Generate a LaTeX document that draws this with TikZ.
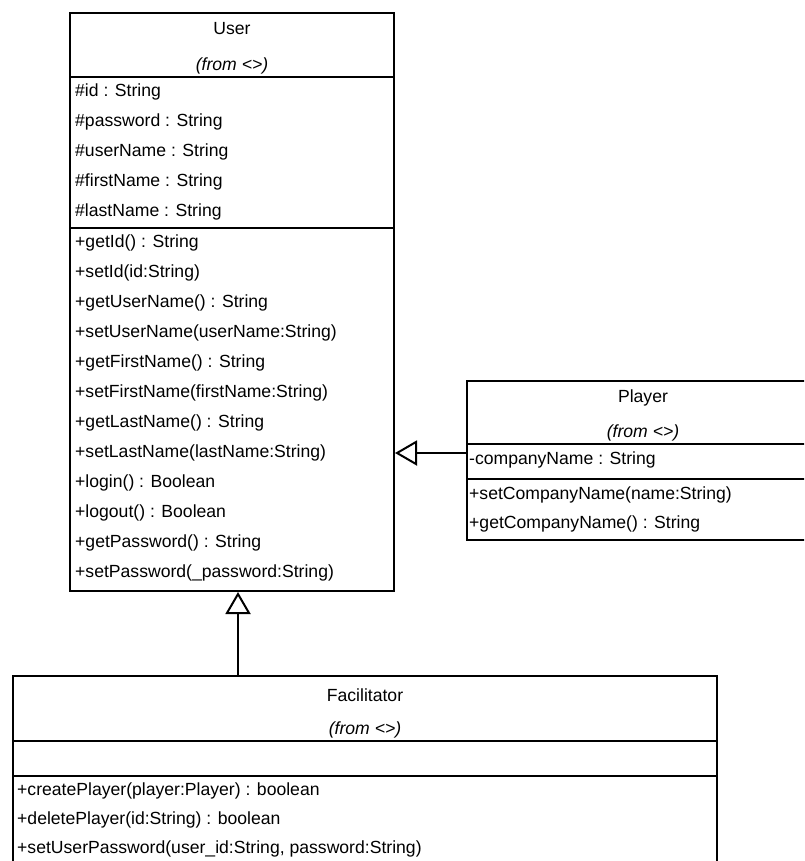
\documentclass[tikz,border=0pt]{standalone}
\usepackage{fontspec}
\setmainfont{Liberation Sans}
\usetikzlibrary{arrows.meta}
\begin{document}
\begin{tikzpicture}[x=1pt,y=-1pt,
  box/.style={draw, line width=2pt, inner sep=0pt, anchor=north west},
  sep/.style={line width=1.8pt},
  member/.style={anchor=west, inner sep=0pt, font=\fontsize{17.6}{20}\selectfont},
  title/.style={anchor=center, inner sep=0pt, font=\fontsize{17.6}{20}\selectfont},
  from/.style={anchor=center, inner sep=0pt, font=\fontsize{17.6}{20}\selectfont\itshape},
  gen/.style={line width=2pt, -{Triangle[open, length=22pt, width=25pt, line width=2pt]}}
]
\useasboundingbox (0,0) rectangle (804,861);
\clip (0,0) rectangle (804,861);

% class boxes
\node[box, minimum width=324pt, minimum height=578pt] (user) at (69,12) {};
\node[box, minimum width=352pt, minimum height=159pt] (player) at (466,380) {};
\node[box, minimum width=704pt, minimum height=220pt] (facil) at (12,675) {};

% compartment separators
\draw[sep] (user.west |- 0,77) -- (user.east |- 0,77);
\draw[sep] (user.west |- 0,228) -- (user.east |- 0,228);
\draw[sep] (player.west |- 0,444) -- (player.east |- 0,444);
\draw[sep] (player.west |- 0,479) -- (player.east |- 0,479);
\draw[sep] (facil.west |- 0,741) -- (facil.east |- 0,741);
\draw[sep] (facil.west |- 0,776) -- (facil.east |- 0,776);

% User
\node[title] (userT) at (user.north |- 0,29) {User};
\node[from] (userF) at (user.north |- 0,66) {(from <>)};
\node[member] (uA1) at (75,92)  {\#id : String};
\node[member] (uA2) at (75,122) {\#password : String};
\node[member] (uA3) at (75,152) {\#userName : String};
\node[member] (uA4) at (75,182) {\#firstName : String};
\node[member] (uA5) at (75,212) {\#lastName : String};
\node[member] (uM1)  at (75,243) {+getId() : String};
\node[member] (uM2)  at (75,273) {+setId(id:String)};
\node[member] (uM3)  at (75,303) {+getUserName() : String};
\node[member] (uM4)  at (75,333) {+setUserName(userName:String)};
\node[member] (uM5)  at (75,363) {+getFirstName() : String};
\node[member] (uM6)  at (75,393) {+setFirstName(firstName:String)};
\node[member] (uM7)  at (75,423) {+getLastName() : String};
\node[member] (uM8)  at (75,453) {+setLastName(lastName:String)};
\node[member] (uM9)  at (75,483) {+login() : Boolean};
\node[member] (uM10) at (75,513) {+logout() : Boolean};
\node[member] (uM11) at (75,543) {+getPassword() : String};
\node[member] (uM12) at (75,573) {+setPassword(\_password:String)};

% Player
\node[title] (playerT) at (player.north |- 0,398) {Player};
\node[from] (playerF) at (player.north |- 0,433) {(from <>)};
\node[member] (pA1) at (469,460) {-companyName : String};
\node[member] (pM1) at (469,495) {+setCompanyName(name:String)};
\node[member] (pM2) at (469,524) {+getCompanyName() : String};

% Facilitator
\node[title] (facilT) at (facil.north |- 0,695) {Facilitator};
\node[from] (facilF) at (facil.north |- 0,730) {(from <>)};
\node[member] (fM1) at (17,791) {+createPlayer(player:Player) : boolean};
\node[member] (fM2) at (17,820) {+deletePlayer(id:String) : boolean};
\node[member] (fM3) at (17,849) {+setUserPassword(user\_id:String, password:String)};

% generalisations
\draw[gen] (player.west |- 0,453) -- (user.east |- 0,453);
\draw[gen] (238,0 |- facil.north) -- (238,0 |- user.south);
\end{tikzpicture}
\end{document}
